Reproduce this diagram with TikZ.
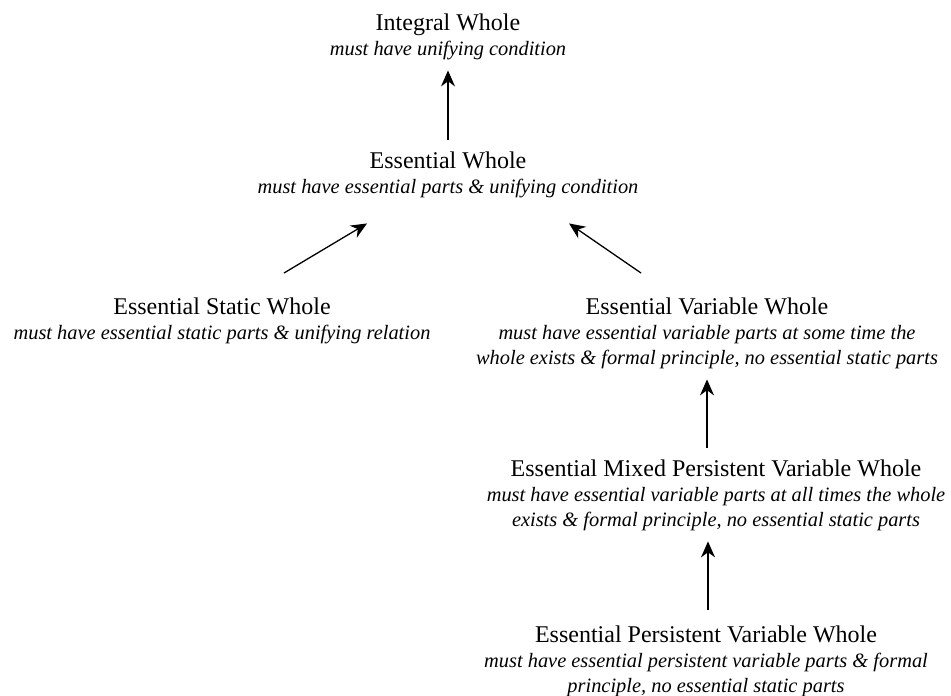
\documentclass[tikz,border=0pt]{standalone}
\usepackage{fontspec}
\setmainfont{Liberation Serif}
\usetikzlibrary{arrows.meta,calc}
\newcommand{\wtitle}[1]{{\fontsize{12}{12.5}\selectfont #1}}

\begin{document}
\begin{tikzpicture}[>={Stealth[length=8pt,width=7pt,inset=2.6pt]},
    x=0.5pt, y=-0.5pt,
    whole/.style={anchor=north, align=center, inner sep=6pt,
                  font=\fontsize{10.2}{12.5}\selectfont\itshape},
    link/.style={->, line width=0.65pt},
    uplink/.style={link, shorten >=-1pt}]
  \useasboundingbox (0,0) rectangle (951,695);
  % Nodes
  \node[whole] (iw) at (448,1.6)   {\wtitle{\upshape Integral Whole}\\must have unifying condition};
  \node[whole] (ew) at (448,139.6) {\wtitle{\upshape Essential Whole}\\must have essential parts \& unifying condition};
  \node[whole] (ss) at (222,285.6) {\wtitle{\upshape Essential Static Whole}\\must have essential static parts \& unifying relation};
  \node[whole] (ev) at (707,285.6) {\wtitle{\upshape Essential Variable Whole}\\must have essential variable parts at some time the\\whole exists \& formal principle, no essential static parts};
  \node[whole] (mx) at (716,447.6) {\wtitle{\upshape Essential Mixed Persistent Variable Whole}\\must have essential variable parts at all times the whole\\exists \& formal principle, no essential static parts};
  \node[whole] (pv) at (706,613.6) {\wtitle{\upshape Essential Persistent Variable Whole}\\must have essential persistent variable parts \& formal\\principle, no essential static parts};

  % Arrows
  \draw[uplink] (ew) -- (iw);
  \draw[link] ([xshift=31pt,yshift=6.3pt]ss.north) -- ([xshift=-40.5pt,yshift=-6.5pt]ew.south);
  \draw[link] ([xshift=-33pt,yshift=6.3pt]ev.north) -- ([xshift=60.5pt,yshift=-6.5pt]ew.south);
  \draw[uplink] (mx.north -| ev.south) -- (ev.south);
  \draw[uplink] ([xshift=1pt,yshift=2pt]pv.north) -- ([xshift=1pt]pv.north |- mx.south);
\end{tikzpicture}
\end{document}
